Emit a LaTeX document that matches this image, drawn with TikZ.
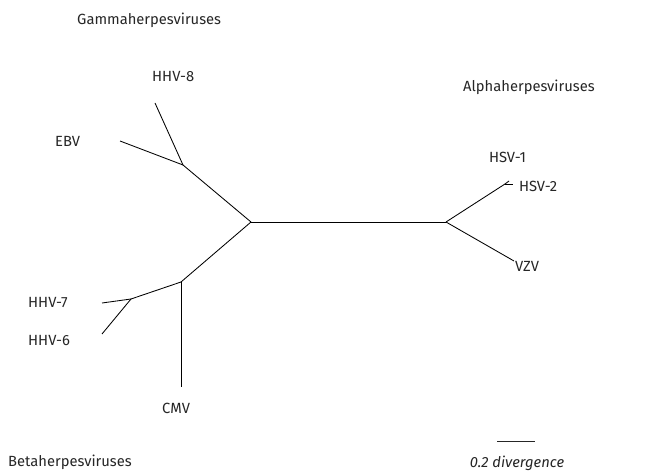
\documentclass[tikz,border=0pt]{standalone}
\usepackage{fontspec}
\setmainfont{Fira Sans}
\usepackage{xcolor}
\usetikzlibrary{positioning}
\definecolor{inkgray}{HTML}{262626}

\begin{document}
\begin{tikzpicture}[
  x=1bp,
  y=-1bp,
  branch/.style={line width=0.85pt, color=black},
  taxon/.style={font=\fontsize{14.8}{17}\selectfont, text=inkgray, inner sep=0pt, anchor=west},
  clade/.style={font=\fontsize{14.8}{17}\selectfont, text=inkgray, inner sep=0pt, anchor=west},
  scalebar/.style={line width=0.7pt, color=inkgray},
  scalelabel/.style={font=\fontsize{14.8}{17}\selectfont\itshape, text=inkgray, inner sep=0pt}
]
\useasboundingbox (0,0) rectangle (654,474);

% tree junctions
\coordinate (rootL) at (251,222);
\coordinate (rootR) at (446,222);
\coordinate (gamma) at (183,165);
\coordinate (beta) at (181,282);
\coordinate (roseolo) at (131,299);
\coordinate (hsv) at (505,184);

% leaf tips
\coordinate (tHHVeight) at (155,103);
\coordinate (tEBV) at (120,141);
\coordinate (tCMV) at (181,387);
\coordinate (tHHVseven) at (102,303);
\coordinate (tHHVsix) at (102,334);
\coordinate (tHSVone) at (509,181);
\coordinate (tHSVtwo) at (513,184);
\coordinate (tVZV) at (514,261);

\draw[branch] (rootL) -- (rootR);
\draw[branch] (rootL) -- (gamma);
\draw[branch] (gamma) -- (tHHVeight);
\draw[branch] (gamma) -- (tEBV);
\draw[branch] (rootL) -- (beta);
\draw[branch] (beta) -- (tCMV);
\draw[branch] (beta) -- (roseolo);
\draw[branch] (roseolo) -- (tHHVseven);
\draw[branch] (roseolo) -- (tHHVsix);
\draw[branch] (rootR) -- (hsv);
\draw[branch] (hsv) -- (tHSVone);
\draw[branch] (hsv) -- (tHSVtwo);
\draw[branch] (rootR) -- (tVZV);

% taxon labels
\node[taxon] (HHVeight) at (152,77) {HHV-8};
\node[taxon] (EBV) at (55,141) {EBV};
\node[taxon] (HHVseven) at (28,302) {HHV-7};
\node[taxon] (HHVsix) at (28,341) {HHV-6};
\node[taxon] (CMV) at (162,408) {CMV};
\node[taxon] (HSVone) at (489,157) {HSV-1};
\node[taxon] (HSVtwo) at (519,186) {HSV-2};
\node[taxon] (VZV) at (515,266) {VZV};

% clade labels
\node[clade] (gammaLab) at (77,20) {Gammaherpesviruses};
\node[clade] (alphaLab) at (463,87) {Alphaherpesviruses};
\node[clade] (betaLab) at (8,462) {Betaherpesviruses};

% scale
\coordinate (barL) at (497,441);
\coordinate (barR) at (535,441);
\draw[scalebar] (barL) -- (barR);
\node[scalelabel] (barLab) at (517,463) {0.2 divergence};
\end{tikzpicture}
\end{document}
